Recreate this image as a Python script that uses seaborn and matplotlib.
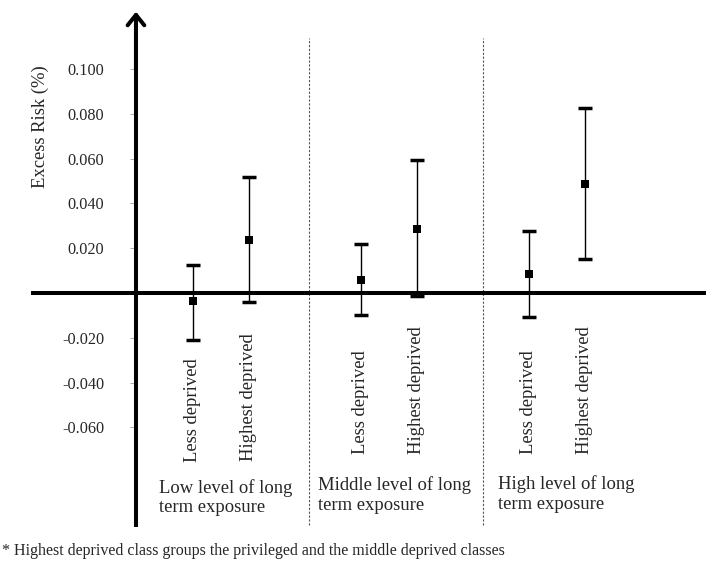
import matplotlib
matplotlib.use("Agg")
import matplotlib.pyplot as plt
import seaborn as sns
import pandas as pd

# -----------------------------
# DATA
# -----------------------------
groups = ["Low level of long\nterm exposure",
          "Middle level of long\nterm exposure",
          "High level of long\nterm exposure"]
classes = ["Less deprived", "Highest deprived"] * 3
positions = [0, 1, 3, 4, 6, 7]
estimate = [-0.0037, 0.0235, 0.0059, 0.0286, 0.0083, 0.0486]
lower = [-0.0208, -0.0040, -0.0097, -0.0012, -0.0108, 0.0154]
upper = [0.0126, 0.0519, 0.0220, 0.0592, 0.0278, 0.0825]
yticks = [-0.06, -0.04, -0.02, 0.02, 0.04, 0.06, 0.08, 0.10]
ytick_labels = ["-0.060", "-0.040", "-0.020", "0.020", "0.040", "0.060", "0.080", "0.100"]
footnote = "* Highest deprived class groups the privileged and the middle deprived classes"

data = pd.DataFrame({"pos": positions, "cls": classes, "est": estimate,
                     "lo": lower, "hi": upper})

# -----------------------------
# STYLE
# -----------------------------
sns.set_style("white")
plt.rcParams["font.family"] = ["Liberation Serif", "DejaVu Serif"]

fig = plt.figure(figsize=(7.06, 5.74), dpi=100)
ax = fig.add_axes([0, 0, 1, 1])
ax.set_xlim(-3.446, 9.161)
ax.set_ylim(-0.1254, 0.1308)

# axes: zero line and the y axis with an arrow
for s in ["top", "right"]:
    ax.spines[s].set_visible(False)
ax.spines["bottom"].set_position(("data", 0))
ax.spines["bottom"].set_bounds(-2.86, 9.2)
ax.spines["bottom"].set_linewidth(2.9)
ax.spines["bottom"].set_color("black")
axis_x = -1.018
ax.spines["left"].set_position(("data", axis_x))
ax.spines["left"].set_bounds(-0.1036, 0.123)
ax.spines["left"].set_linewidth(2.9)
ax.spines["left"].set_color("black")
ax.annotate("", xy=(axis_x, 0.1256), xytext=(axis_x, 0.10),
            arrowprops=dict(arrowstyle="->, head_length=0.75, head_width=0.6",
                            lw=2.9, color="black", shrinkA=0, shrinkB=0))

ax.set_xticks([])
ax.set_yticks(yticks)
ax.set_yticklabels(ytick_labels, fontsize=11.7)
ax.tick_params(axis="y", direction="out", length=4, width=0.7,
               color="#aaaaaa", pad=19, left=True)

# dashed separators between exposure groups
ax.vlines([2.07, 5.18], -0.1036, 0.1138, colors="#555555",
          linestyles=(0, (2, 1.5)), linewidth=0.8)

# -----------------------------
# ERROR BARS AND POINTS
# -----------------------------
ax.errorbar(data["pos"], data["est"],
            yerr=[data["est"] - data["lo"], data["hi"] - data["est"]],
            fmt="none", ecolor="black", elinewidth=1.0,
            capsize=5, capthick=2.5, zorder=3)
sns.scatterplot(data=data, x="pos", y="est", marker="s", s=38,
                color="black", edgecolor="black", linewidth=0, zorder=4,
                ax=ax, legend=False)
ax.set_xlabel("")
ax.set_ylabel("")

# text labels
ax.text(-2.73, 0.0741, "Excess Risk (%)", rotation=90, ha="center",
        va="center", fontsize=13.4)

label_bottom = [-0.0754, -0.0750, -0.0719, -0.0719, -0.0719, -0.0719]
for p, c, yb in zip(positions, classes, label_bottom):
    ax.text(p, yb, c, rotation=90, ha="center", va="bottom", fontsize=13.4)

group_x = [-0.614, 2.225, 5.446]
group_y = [-0.0913, -0.0902, -0.0896]
for g, gx, gy in zip(groups, group_x, group_y):
    ax.text(gx, gy, g, ha="left", va="center", fontsize=13.4, linespacing=1.2)

fig.text(0.003, 1 - 551 / 574, footnote, ha="left", va="center", fontsize=11.5)

fig.savefig("out.png", dpi=100)
